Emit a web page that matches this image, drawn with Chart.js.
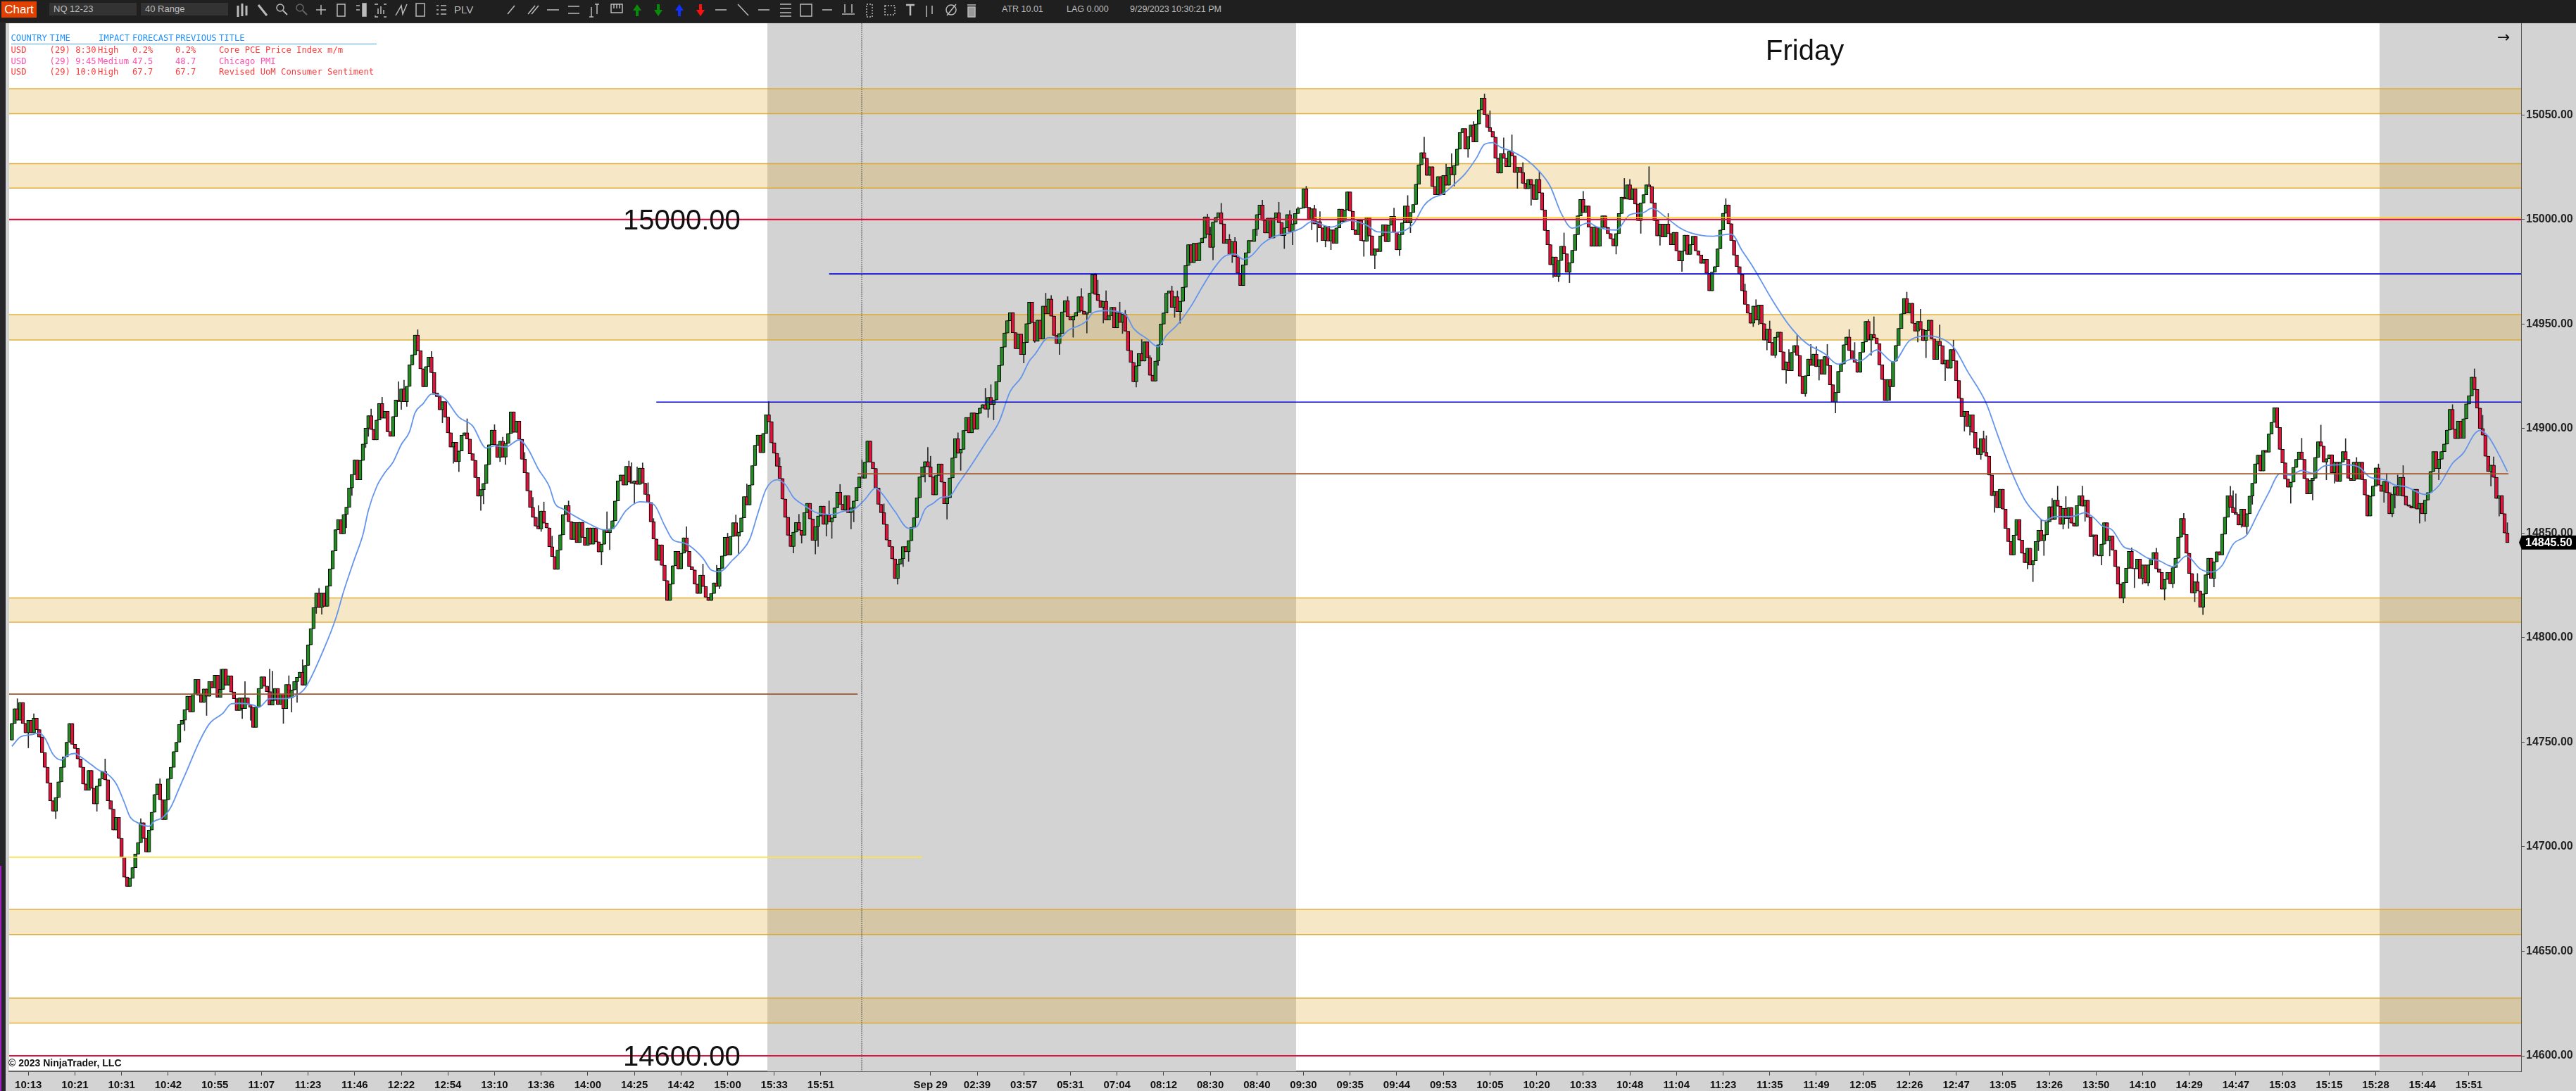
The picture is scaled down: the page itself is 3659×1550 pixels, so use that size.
<!DOCTYPE html>
<html><head><meta charset="utf-8"><title>NQ 12-23 40 Range</title>
<script src="https://cdn.jsdelivr.net/npm/chart.js@4/dist/chart.umd.min.js"></script>
<style>
html,body{margin:0;padding:0;width:3659px;height:1550px;overflow:hidden;background:#d3d3d3}
#c{position:absolute;left:0;top:0}
.a{position:absolute;white-space:pre}
#bar{position:absolute;left:0;top:0;width:3659px;height:33px;background:#1f1f1f;border-bottom:1px solid #2c2c2c;box-sizing:border-box;font:13px "Liberation Sans",sans-serif;color:#bbb}
.sel{position:absolute;top:4px;height:18px;line-height:18px;background:#333;color:#bbb;padding-left:6px;box-sizing:border-box;font-size:13px}
.news{font:12.2px "DejaVu Sans Mono",monospace}
#left{position:absolute;left:0;top:33px;width:8px;height:1517px;background:#26262b}
#lp{position:absolute;left:0;top:1230px;width:2px;height:320px;background:#a020c0}
</style></head><body>
<canvas id="c" width="3659" height="1550"></canvas>
<div id="left"></div><div id="lp"></div>
<div id="bar">
<div class="a" style="left:2px;top:2px;width:50px;height:23px;background:#e04000;color:#fff;font-size:17px;line-height:23px;text-align:center">Chart</div>
<div class="sel" style="left:70px;width:124px">NQ 12-23</div>
<div class="sel" style="left:200px;width:124px">40 Range</div>
<div class="a" style="left:645px;top:5px;font-size:15px">PLV</div>
<div class="a" style="left:1423px;top:6px;font-size:12.5px">ATR 10.01</div>
<div class="a" style="left:1515px;top:6px;font-size:12.5px">LAG 0.000</div>
<div class="a" style="left:1605px;top:6px;font-size:12.5px">9/29/2023 10:30:21 PM</div>
<svg class="a" style="left:0;top:0" width="1700" height="32" fill="none" stroke="#bbb" stroke-width="1.5">
<path d="M338 8v16M344 5v18M350 8v14" stroke-width="3"/><path d="M367 7L379 22" stroke-width="3"/>
<circle cx="398" cy="11" r="5"/><path d="M402 15L408 21" stroke-width="2"/>
<g stroke="#666"><circle cx="426" cy="11" r="5"/><path d="M430 15L436 21" stroke-width="2"/></g>
<path d="M449 14h14M456 7v14"/><rect x="479" y="6" width="11" height="17"/>
<path d="M506 8h5M506 14h5"/><rect x="515" y="5" width="5" height="18" fill="#bbb"/>
<path d="M533 7v-1h4M549 6h-4M533 22v2h4M549 24h-4M537 20v-8M541 20v-11M545 20v-6"/>
<path d="M562 22L570 8L572 20L578 6"/><rect x="591" y="5" width="12" height="18"/>
<path d="M620 8h3M620 14h3M620 20h3M626 8h8M626 14h8M626 20h8"/>
<path d="M721 20L731 8M750 20L760 8M755 20L765 8M777 14h17M807 9h16M807 19h16M840 10v14M848 6v14M837 24h6M845 6h6"/>
<rect x="868" y="6" width="16" height="12"/><path d="M872 6v6M876 6v6M880 6v6"/>
<path d="M905 6l-6 9h4v8h4v-8h4z" fill="#0a8a0a" stroke="none"/><path d="M935 23l-6 -9h4v-8h4v8h4z" fill="#0a8a0a" stroke="none"/>
<path d="M965 6l-6 9h4v8h4v-8h4z" fill="#1030ff" stroke="none"/><path d="M995 23l-6 -9h4v-8h4v8h4z" fill="#ff1010" stroke="none"/>
<path d="M1016 14h16M1048 6L1063 22M1077 14h16M1108 6h16M1108 12h16M1108 18h16M1108 23h16"/>
<rect x="1137" y="6" width="16" height="17"/><path d="M1168 14h14M1200 6v12M1210 6v12M1196 20h18"/>
<rect x="1231" y="6" width="8" height="18" stroke-dasharray="2 2"/><rect x="1257" y="8" width="14" height="13" stroke-dasharray="2 2"/>
<path d="M1287 7h12M1293 7v15" stroke-width="2.5"/><path d="M1316 8v16M1324 8v12"/><circle cx="1351" cy="14" r="7"/><path d="M1345 22L1358 6"/>
<rect x="1375" y="10" width="10" height="14" fill="#999"/><path d="M1374 7h12"/>
</svg>
</div>
<div id="news"></div>
<script>
const newsHeader = ["COUNTRY","TIME","IMPACT","FORECAST","PREVIOUS","TITLE"];
const newsRows = [
 ["USD","(29) 8:30","High","0.2%","0.2%","Core PCE Price Index m/m"],
 ["USD","(29) 9:45","Medium","47.5","48.7","Chicago PMI"],
 ["USD","(29) 10:0","High","67.7","67.7","Revised UoM Consumer Sentiment"]];
const tickLabels = ["10:13","10:21","10:31","10:42","10:55","11:07","11:23","11:46","12:22","12:54","13:10","13:36","14:00","14:25","14:42","15:00","15:33","15:51","Sep 29","02:39","03:57","05:31","07:04","08:12","08:30","08:40","09:30","09:35","09:44","09:53","10:05","10:20","10:33","10:48","11:04","11:23","11:35","11:49","12:05","12:26","12:47","13:05","13:26","13:50","14:10","14:29","14:47","15:03","15:15","15:28","15:44","15:51"];
const tickBars = [7,24,41,58,75,92,109,126,143,160,177,194,211,228,245,262,279,296,336,353,370,387,404,421,438,455,472,489,506,523,540,557,574,591,608,625,642,659,676,693,710,727,744,761,778,795,812,829,846,863,880,897];
const priceTicks = [14600,14650,14700,14750,14800,14850,14900,14950,15000,15050];
const firstOpen = 14751;
const closes = [
14759,14766,14760.5,14769,14759,14754.5,14760.5,14754.5,14761.5,14756,14752.5,14745,14738,14730.5,14722,14717,14723.5,14731,14738,14743,14750,14759,14749,14747,14742,14738,14730,14727,14736.5,14728,14720.5,14729,14732.5,14736,14732,14722,14718,14708,14714,14704,14695,14685.5,14681,14685,14690,14696.5,14702,14711.5,14704,14697.5,14708,14716.5,14725,14730,14722.5,14713,14722.5,14732.5,14738,14745.5,14750,14758.5,14760.5,14765.5,14772,14764.5,14773,14780,14772.5,14769,14775.5,14772,14779,14776,14782,14771.5,
14775.3,14785,14777.3,14781.8,14774,14770.8,14765.2,14771.2,14766.1,14771.2,14768,14766.7,14757.1,14766.7,14775.7,14781.3,14776.8,14774.2,14767.8,14770,14775.7,14768,14773,14766.1,14777.6,14771.2,14775,14779,14781,14783.5,14777.3,
14786.7,14796.6,14804.3,14814.4,14821.3,14814.4,14821.3,14815,14824.7,14832.9,14841.5,14851.6,14856.4,14849.7,14858.9,14862.4,14871.6,14878,14885,14875.5,14884.8,14892.6,14900.2,14906.2,14899.6,14894.6,14904.1,14912,14905,14908.3,14898.5,14896.3,14905.8,14913.7,14913,14919,14912.9,14920.2,14930.5,14935.3,14944.7,
14937.2,14928.6,14920,14929.7,14934.2,14926.8,14917,14915.3,14909,14912.9,14905.5,14898,14891.2,14893.5,14884.2,14889.3,14896.8,14898,14895,14888,14884.8,14876.6,14867.7,14870.8,14873.8,14882.8,14892.3,14899.3,14892.3,14886.2,14894,14886.4,14892.9,14897.7,14908,14898.2,14903.6,14894.9,14885.4,14878.9,14870.2,14862.3,14857.6,14853.4,14852,14860.6,14854.8,14852.5,14843.5,14838.8,14832.7,14841.9,14849.2,14858.9,14863.2,14855.5,14847,14855.1,14845.5,14855.2,14848,14844.1,14852.5,14844.7,14852.5,14845.8,14841,14844.7,14851.6,14850.3,14852,14855.9,14865.4,14875,14877.8,14873,14881.9,14874.4,14873.8,14875,14873.3,14881.1,
14873.9,14868.5,14864.7,14855.4,14847.2,14837,14844.4,14834.6,14827.3,14817.8,14825.6,14834.4,14841.3,14832.9,14840.4,14847.8,14841.3,14834,14832.4,14825.6,14821.1,14829.9,14824.5,14819.4,14817.8,14821.1,14826.2,14824.5,14833.2,14839.1,14848,14839.6,14848.4,14855,14848.6,14850.5,14857.3,14867.5,14863.5,14873,14882.3,14892,14896.9,14888.5,14897.7,14906.6,14903.3,14893.2,14888.2,14882,14876.1,14866.3,14857.6,14849,14843.6,14850.5,14855.1,14851.4,14849,14859.8,14864.3,14856.8,14846.6,14853.1,14858.2,14862.9,14854.2,14858.7,14855.4,14857.3,14862.1,14869.6,14863.8,14861,14868,14859.8,14862.1,14865.4,14871.8,14876.9,14876.3,14884,14894.1,14884,14880.9,14871.6,14863.8,14859.8,14854.2,14846.7,14843.6,14837.7,14828.3,14835.2,14837.7,14843.6,14841.1,14846.4,14852.8,14857.4,14866.9,14876.9,14881.7,14884.2,14881.7,14876.9,14868.3,14877.6,14883.1,14874.4,14864.1,14866.9,14876.4,14886,14895.2,14888.2,14890.1,14899.1,14905.3,14898,14907.5,14899.7,14907.3,14909.8,
14911.5,14909.3,14914.9,14911.5,14913.7,14922.4,14930.2,14939,14945.7,14951.6,14955.5,14945.9,14938.2,14945.2,14935.4,14941.2,14950.2,14960.5,14950.8,14941.8,14951.9,14942.9,14958.6,14954.9,14962,14953.8,14944.6,14940.7,14945.5,14955.8,14961.2,14953.6,14951.9,14953.8,14955.6,14963.1,14956.2,14954.7,14955.5,14964.8,14973.6,14964.2,14961.2,14958,14960.9,14951.9,14954,14958,14948.2,14955.3,14950.8,14954.7,14946.6,14937.3,14931.7,14922.4,14930,14935.9,14932.3,14941.5,14933.9,14925.5,14922.7,14932.3,14940.1,14950,14955.3,14964.8,14965.9,14958,14963.1,14956,14960.9,14967.6,14978,14988,14979.4,14988.7,14980.3,14988.9,14991.2,15001.3,14992.9,14986.7,14998.8,15001,15003.2,14997.9,14988.6,14990.4,14983.3,14989.5,14982.2,14974.3,14968.4,14978.3,14984.1,14990,14989.5,14995.3,15002.4,15006.9,14999.6,14993.6,15000.7,14991.2,15000.7,15003.2,14998.5,14992.3,14996,15002.4,14994.3,14997.9,15002.9,15005.2,15005.5,15014.7,15005.8,15000.1,15005.2,14997.9,14999,14996,14990,14996.8,14989.7,14995.1,14988.6,14996,15005,14999,
15004.6,15013.2,15004,14995,14992.8,14999.5,14990,14989.6,15001.2,14992.2,14982.9,14986,14984.7,14992.2,14997.5,14989.4,14997.3,15001.5,14993.9,14985.5,14992.8,14998.4,15006.5,14998.4,15003.4,15007.2,15016.9,15026.2,15032,15029.3,15021.1,15025.3,15015.8,15011.9,15020.6,15011.9,15021.1,15016.4,15025.1,15021.4,15025.9,15033.7,15041.6,15043.5,15033.7,15039.7,15045.2,15037.1,15045.7,15052.5,15058.1,15050.2,15044,15042.2,15039.4,15029.3,15022.2,15031.5,15029.3,15025.3,15032.6,15030.4,15022.5,15025,15022.5,15017.3,15014.7,15019.2,15016.6,15009.6,15019.2,15012.8,15004.6,14994.8,14988,14978.4,14982.1,14972.8,14980.4,14987.2,14983.6,14974.8,14979.3,14985.3,14992.8,15001.8,15009.6,15003.4,15006.5,14996.4,14987.2,14996.4,14987.2,14996.2,15001.8,14996.2,14993.3,14990.8,14987.4,14993.3,15002.9,15010.7,15009.8,15016.6,15009.6,15014.7,15007.4,14999.5,15007.9,15011.9,15016.6,15015.8,15007.9,14999.5,14992.2,14997.8,14991.7,14997.8,14993.3,14988,14993.9,14985,14980.2,14984.9,14992.5,14983.3,
14988,14992,14985,14983,14979,14981,14974.3,14965.9,14974.9,14977.5,14986,14995,15003,15007,14998,14990,14983,14977.5,14973.7,14965.9,
14959.4,14955.2,14950.4,14958.6,14951.9,14959.1,14950.2,14942.3,14947.6,14941.2,14935,14943.7,14946.2,14936.7,14928,14931.9,14927.7,14936.5,14939.8,14935,14925.1,14916.7,14925.3,14933.3,14930.2,14935.6,14929.6,14933,14926,14934.5,14930.2,14921,14912.6,14917.3,14927.4,14930.9,14940.1,14943.8,14937.3,14933.3,14931.7,14926.9,14936.5,14941.4,14951.3,14942.3,14945.1,14943.4,14940.6,14930.5,14923.5,14913.4,14923.5,14920,14932.2,14939.8,14947.9,14954.9,14962.2,14955.2,14960,14950.4,14946.6,14951.3,14947.4,14942.1,14947,14951.9,14942.9,14933.1,14941.8,14939.7,14930.9,14932.8,14928.9,14937.8,14932.4,14923,14914.5,14905.8,14908.3,14901,14906.6,14898.2,14890.7,14887.6,14895.2,14888.7,14886.8,14877.8,14867.9,14870,14862.1,14871,14861.5,14852.3,14846,14839.6,14849,14856.5,14846.7,14840.4,14835.9,14842.8,14834.8,14836.8,14846,14851.4,14846.4,14849.2,14855.4,14862.7,
14856.5,14865.8,14862.9,14854.2,14861.9,14857,14862.3,14854.8,14853.4,14863.2,14867.9,14862.9,14865.8,14857.6,14848.3,14849.2,14839.6,14839.1,14844.7,14855,14846.4,14848.6,14841.9,14834,14825.6,14818.9,14826.4,14833.2,14841.3,14833.2,14832.9,14837.6,14828.4,14834.8,14826.2,14834.8,14837.4,14840.8,14832.9,14831.2,14823.2,14827.9,14831.2,14825.8,14833.5,14838,14848.1,14857,14849.4,14840.4,14830.7,14821.4,14826.7,14822.3,14814.6,14820.9,14830.1,14838,14828.4,14836.3,14841.1,14839.6,14849.5,14857.6,14867.9,14862.3,14859.8,14859,14853.9,14861.5,14853.1,14859.3,14867.7,14873.9,14883.1,14887.3,14879.7,14889.6,14888.7,14897.4,14903,14910,14900.5,14890.1,14883.6,14875.9,14872,14874.4,14881.4,14885.3,14888.8,14885.3,14876.1,14868.8,14875.2,14876.3,14886.2,14893.7,14891.6,14884,14885.6,14887.5,
14878.9,14884,14874.7,14884,14889,14885.3,14876.3,14875.2,14884,14875.8,14884,14875.6,14868.3,14858.2,14867.7,14872.5,14881.2,14873,14870,14874.8,14869.4,14859.3,14868.5,14872.2,14868,14876.7,14867.7,14863.5,14862.9,14862,14871,14861.5,14864.3,14859.3,14865.8,14869.4,14879.5,14889,14880.9,14885.4,14889,14892.6,14899.3,14909.2,14899.7,14895.2,14903.6,14895.4,14904.7,14911.8,14915.7,14924.6,14918.7,14909.8,14900,14896.9,14886.8,14879.5,14882.5,14876.7,14866.6,14868,14859.3,14850.1,14845.5];
const wickBars = [2,6,8,16,31,34,47,54,63,71,76,84,85,87,94,95,99,101,102,104,106,111,112,113,122,124,129,130,131,135,141,142,143,144,148,153,157,161,163,166,171,172,176,178,179,180,187,190,192,193,194,197,203,215,217,218,225,226,227,227,228,230,232,234,246,252,257,258,261,264,265,268,276,280,285,287,288,293,294,297,298,299,302,306,307,310,318,323,325,327,333,334,335,341,345,346,355,355,356,357,358,369,373,377,379,382,385,387,390,392,395,396,398,399,404,405,406,410,412,415,418,423,424,425,426,436,437,438,441,444,445,446,454,456,462,464,466,467,469,472,474,475,476,477,479,481,493,497,504,506,509,510,515,523,525,526,531,533,537,539,544,547,549,551,554,557,562,564,566,568,573,585,588,590,594,597,601,604,609,625,632,635,636,637,640,641,643,647,648,651,654,656,658,659,662,665,670,672,677,678,679,685,691,695,696,698,703,705,708,712,714,718,719,720,723,735,737,739,740,741,744,746,748,749,750,755,756,759,762,765,770,773,774,777,779,782,785,788,792,796,797,799,803,809,810,811,813,815,817,831,835,839,842,844,847,851,855,863,865,866,868,869,870,872,878,880,885,890,898,901,904,905,907,910];
const wickEnds = [14770.8,14747.3,14763.6,14713.4,14717,14742,14713.4,14732.5,14755.5,14762.8,14785,14761.3,14779,14760.5,14785,14784,14759,14781.8,14764.4,14769,14789.5,14811.6,14823.6,14811.2,14852.5,14868,14890.9,14896.3,14909.4,14915,14922.4,14909.2,14923.2,14910.6,14947.3,14936.9,14902.8,14883.4,14879.4,14904.7,14860.9,14864,14901.9,14884.2,14895.9,14882.8,14888.6,14867.1,14863.2,14850.8,14864.9,14848.6,14865.4,14834.8,14860.2,14842.1,14884.5,14883.7,14865.1,14864,14881.7,14883.6,14874.1,14857,14853.1,14835.2,14834.6,14823.4,14850,14858.7,14840.2,14873.5,14912.9,14886.2,14840.5,14859,14845.2,14840,14843.6,14848.6,14865.4,14847.5,14873.3,14852,14855.4,14885,14864,14825.6,14834,14836.5,14874.4,14891,14886.8,14856.7,14898,14880,14919.3,14919,14905.3,14921,14904.2,14931.4,14941.2,14964.8,14963.7,14935.4,14963.1,14943.7,14967,14945.7,14974.3,14971,14950.5,14965.9,14960.5,14945.5,14956.6,14919.9,14942.6,14935,14930.2,14968.2,14953.2,14965.9,14950.4,15002.6,14996.4,14980.7,15007.8,14992.9,14979.4,14991.4,14992.3,15009.3,15008.3,14986.1,15004.3,14988,15006,15015.9,14995.1,15006.9,14989.2,15003.8,14986.9,14985.6,14982.4,14976.5,15005.5,14982.7,15011.5,14993.7,15039.4,15026.5,15031.5,15016,15029.8,15046.9,15060.1,15052,15039.1,15040.5,15014.9,15027.2,15006.8,15023,14972.3,14970.3,14993.6,14969.8,15013.5,14983.5,15019.7,15019.2,14993.4,15025.3,14987.7,15002.9,14975.2,15010,14969.2,14948.8,14961.7,14949.6,14937.6,14951.5,14933.9,14921.6,14937.8,14944.9,14915.4,14940.3,14939.2,14923.2,14940.3,14907.5,14947.4,14941.2,14952.2,14935,14953.5,14913.5,14965.3,14941.4,14957.1,14933.9,14949.6,14923,14942.3,14898.8,14896.9,14885.3,14898.9,14896.6,14859.9,14832.9,14826.8,14841.6,14856.5,14839.3,14866.6,14872.5,14852,14867.5,14852.3,14872.5,14855.7,14838.9,14834.8,14839.1,14816.6,14843,14823.9,14825.6,14824.8,14842.8,14818.1,14823.9,14859.5,14817.2,14830.7,14811,14824.3,14872.4,14870.3,14868.8,14852.8,14849.5,14863.8,14864.3,14895.4,14865.8,14901.7,14875.5,14873.9,14895.2,14886.2,14883.1,14864.7,14878.6,14857.8,14862,14877.8,14882.3,14854.8,14855.7,14875.5,14911.5,14928.6,14906.4,14872.5,14886.5,14858.2,14855];
const emaBars = [0,3,7,10,12,15,18,20,23,25,29,32,34,38,41,43,46,50,52,55,58,61,64,68,72,77,80,83,88,90,94,99,104,107,114,118,121,125,128,130,133,136,139,142,145,147,150,153,156,158,163,168,173,176,180,185,188,192,196,198,201,206,210,216,219,224,229,234,238,241,245,247,252,255,258,263,266,269,272,275,279,282,285,289,294,299,303,307,311,315,317,322,327,330,333,336,339,342,345,350,355,360,364,368,371,373,378,382,385,392,394,399,406,409,414,418,421,425,430,434,438,442,446,449,452,456,460,465,470,474,481,488,494,498,505,511,515,518,522,526,530,534,537,540,543,547,552,557,561,565,569,575,578,585,590,595,598,603,608,612,620,627,631,635,642,648,654,661,666,671,674,680,686,692,699,708,713,720,724,729,734,738,741,745,751,756,759,762,766,770,774,779,783,788,793,798,802,806,810,815,819,823,827,831,835,839,843,846,851,856,860,865,869,873,880,885,890,894,898,900,903,907,910];
const emaVals = [14748,14752.4,14753.6,14754.3,14752,14744.2,14741.5,14743.5,14744.6,14743.1,14739.2,14736.4,14735.6,14730.2,14721.2,14714.5,14711.4,14709.8,14712.3,14714,14719,14728,14737,14749.3,14758.8,14763.9,14768.4,14768.6,14767.8,14766.7,14770.8,14770.8,14772.6,14776,14795.3,14808.8,14822.2,14837.9,14849.2,14860.9,14872.2,14878.9,14884,14892.4,14898.5,14907.5,14912,14916.5,14915.9,14914.2,14905.5,14901.3,14890.7,14891.8,14891.2,14894.6,14890.7,14880.6,14872.2,14864.3,14861.5,14857.6,14854.8,14851.6,14852,14860.9,14865,14863.8,14853.7,14846.9,14845.3,14844.1,14838,14832.4,14831.6,14837.4,14841.3,14846.9,14859.3,14871,14875.5,14873.3,14867.1,14863.2,14859.5,14858.9,14860.4,14861.3,14866,14871.6,14869.4,14860.4,14852.3,14853.1,14861.5,14864.3,14867.1,14867.7,14873.3,14882.8,14893,14903.3,14917.7,14924.4,14932.3,14935.4,14943.5,14943.3,14946.8,14951.6,14955.3,14956.4,14954.7,14948,14942.9,14939.2,14944.6,14949.7,14958.6,14967.6,14976,14982.2,14983.5,14981,14982.7,14988.4,14991.7,14993.4,14995.7,14999,14996.4,14999.5,14997.3,14994.1,14993.9,14997.8,15006.8,15010.2,15012.4,15016.9,15022,15029.3,15036,15036.8,15034.5,15032.6,15028.9,15023,15015.8,15002.9,14995.9,14998.4,14996.5,14995,15002.3,15003.4,15005.4,15001.2,14996.2,14993.7,14992,14993,14985,14977.1,14961.4,14949.6,14941.2,14935.8,14930.8,14933.3,14932.4,14937.6,14931.9,14942.1,14944.3,14939,14927.7,14912,14897.4,14880,14866,14859.3,14855.9,14857.9,14857.9,14859.8,14857.6,14853.7,14851.4,14843.6,14841.9,14838,14836.8,14834,14839.1,14832.9,14831.4,14834.6,14844.7,14849.2,14859.3,14869.4,14878.4,14877.8,14880,14878.6,14882,14882.6,14882.8,14881.5,14876.7,14875.6,14873,14872.2,14868.5,14872.7,14883.4,14888.4,14897.4,14899.1,14896.3,14887.3,14879.5];
const zonePrices = [[15062.6,15050.6],[15026.7,15015],[14954.5,14942.4],[14819,14807.4],[14670,14658],[14627.6,14615.7]];
const levelPrices = [15000,15001,14974,14912.7,14878.4,14773,14695,14600];
const levelFrom   = [0,476,299,236,309.4,0,0,0];
const levelTo     = [916,916,916,916,911.4,309.4,333,916];
const levelColors = ["#dc143c","#ffd21e","#0000cd","#0000cd","#a0562d","#a0562d","#ffe24a","#dc143c"];
const sessionFrom = [276.5,864.4];
const sessionTo   = [469.3,916];
const cursorBar = 310.9;
const bigLabels = ["15000.00","14600.00"];
const bigLabelPrices = [15000,14600];

const COUNT = 917;
const cats = new Array(COUNT).fill("");
tickBars.forEach((b,k)=>cats[b]=tickLabels[k]);
const bodies = new Array(COUNT).fill(null), wicks = new Array(COUNT).fill(null), colors = new Array(COUNT).fill("#000");
const hi = closes.map((c,i)=>Math.max(c,i?closes[i-1]:firstOpen)), lo = closes.map((c,i)=>Math.min(c,i?closes[i-1]:firstOpen));
wickBars.forEach((b,k)=>{ if(b<closes.length){hi[b]=Math.max(hi[b],wickEnds[k]);lo[b]=Math.min(lo[b],wickEnds[k]);} });
closes.forEach((c,i)=>{const o=i?closes[i-1]:firstOpen;bodies[i+1]=[Math.min(o,c),Math.max(o,c)];wicks[i+1]=[lo[i],hi[i]];colors[i+1]=c>=o?"#228b22":"#dc143c";});
const ema = new Array(COUNT).fill(null);
emaBars.forEach((b,k)=>ema[b+1]=emaVals[k]);

// news table
(function(){const xs=[15.5,70.6,140,188,249,311],ys=[47,64,79.5,95],host=document.getElementById('news');
 const put=(t,x,y,c)=>{const d=document.createElement('div');d.className='a news';d.textContent=t;d.style.cssText=`left:${x}px;top:${y}px;color:${c}`;host.appendChild(d);};
 newsHeader.forEach((t,k)=>put(t,xs[k],ys[0],'#1e90ff'));
 const rc=['#ff3a3a','#ff4fb0','#ff3a3a'];
 newsRows.forEach((r,j)=>r.forEach((t,k)=>put(t,k==2?139:xs[k],ys[j+1],rc[j])));
 const l=document.createElement('div');l.className='a';l.style.cssText='left:15.5px;top:61.5px;width:519px;height:1px;background:#4aa3ff';host.appendChild(l);
})();

const decor = {
 id:'decor',
 beforeDraw(ch){const g=ch.ctx,a=ch.chartArea;g.save();g.fillStyle='#d3d3d3';g.fillRect(0,0,3659,1550);g.fillStyle='#fff';g.fillRect(a.left,a.top,a.right-a.left,a.bottom-a.top);g.restore();},
 beforeDatasetsDraw(ch){const g=ch.ctx,a=ch.chartArea,x=ch.scales.x,y=ch.scales.y;g.save();
  g.fillStyle='#d3d3d3';sessionFrom.forEach((s,k)=>{const l=x.getPixelForValue(s),r=x.getPixelForValue(sessionTo[k]);g.fillRect(l,a.top,r-l,a.bottom-a.top);});
  zonePrices.forEach(z=>{const t=y.getPixelForValue(z[0]),b=y.getPixelForValue(z[1]);g.fillStyle='rgba(218,165,32,.25)';g.fillRect(a.left,t,a.right-a.left,b-t);
    g.strokeStyle='rgba(218,165,32,.85)';g.lineWidth=1.5;g.beginPath();g.moveTo(a.left,t);g.lineTo(a.right,t);g.moveTo(a.left,b);g.lineTo(a.right,b);g.stroke();});
  g.restore();},
 afterDatasetsDraw(ch){const g=ch.ctx,a=ch.chartArea,x=ch.scales.x,y=ch.scales.y;g.save();
  levelPrices.forEach((p,k)=>{const v=y.getPixelForValue(p);g.strokeStyle=levelColors[k];g.lineWidth=(k==0||k==7)?2.2:1.6;g.beginPath();g.moveTo(x.getPixelForValue(levelFrom[k]),v);g.lineTo(x.getPixelForValue(levelTo[k]),v);g.stroke();});
  g.strokeStyle='#555';g.lineWidth=1;g.setLineDash([2,1]);g.beginPath();const cx=x.getPixelForValue(cursorBar);g.moveTo(cx,a.top);g.lineTo(cx,a.bottom);g.stroke();g.setLineDash([]);
  g.fillStyle='#111';g.font='40px "Liberation Sans"';g.textAlign='left';g.textBaseline='middle';
  bigLabels.forEach((t,k)=>g.fillText(t,885,y.getPixelForValue(bigLabelPrices[k])+3));
  g.fillText('Friday',2508,74);
  g.font='22px "DejaVu Sans"';g.fillText('\u2192',3547,54);
  g.font='bold 14px "Liberation Sans"';g.fillStyle='#111';g.fillText('\u00A9 2023 NinjaTrader, LLC',12,1511);
  // last price flag
  const last=closes[closes.length-1],ly=y.getPixelForValue(last);
  g.fillStyle='#000';g.beginPath();g.moveTo(3578,ly);g.lineTo(3582,ly-10);g.lineTo(3659,ly-10);g.lineTo(3659,ly+10);g.lineTo(3582,ly+10);g.closePath();g.fill();
  g.fillStyle='#fff';g.font='bold 16px "Liberation Sans"';g.fillText(last.toFixed(2),3587,ly+1);
  g.restore();}
};

new Chart(document.getElementById('c'),{
 type:'bar',
 data:{labels:cats,datasets:[
  {type:'line',data:ema,borderColor:'#6495ed',borderWidth:1.8,pointRadius:0,spanGaps:true,cubicInterpolationMode:'monotone',order:0},
  {data:bodies,backgroundColor:colors,borderColor:'#000',borderWidth:1,borderSkipped:false,barThickness:5,grouped:false,order:1},
  {data:wicks,backgroundColor:'#2a2a2a',borderWidth:0,barThickness:1,grouped:false,order:2}
 ]},
 plugins:[decor],
 options:{
  responsive:false,animation:false,devicePixelRatio:1,
  layout:{padding:{left:13,top:33,right:0,bottom:0}},
  plugins:{legend:{display:false},tooltip:{enabled:false}},
  scales:{
   x:{type:'category',offset:false,
      grid:{offset:false,drawOnChartArea:false,color:'#444',tickLength:6,drawTicks:true},
      border:{color:'#666',width:2},
      ticks:{autoSkip:false,maxRotation:0,minRotation:0,color:'#111',padding:5,font:{family:'"Liberation Sans"',size:15,weight:'bold'}},
      afterBuildTicks(s){s.ticks=s.ticks.filter(t=>cats[t.value]!=='');},
      afterFit(s){s.height=28;}},
   y:{type:'linear',position:'right',min:14592.6,max:15093.9,
      grid:{drawOnChartArea:false,color:'#444',tickLength:5},
      border:{color:'#555',width:2},
      ticks:{color:'#222',padding:2,font:{family:'"Liberation Sans"',size:16,weight:'bold'},callback:v=>v.toFixed(2)},
      afterBuildTicks(s){s.ticks=priceTicks.map(value=>({value}));},
      afterFit(s){s.width=78;}}
  }
 }
});
</script>
</body></html>
